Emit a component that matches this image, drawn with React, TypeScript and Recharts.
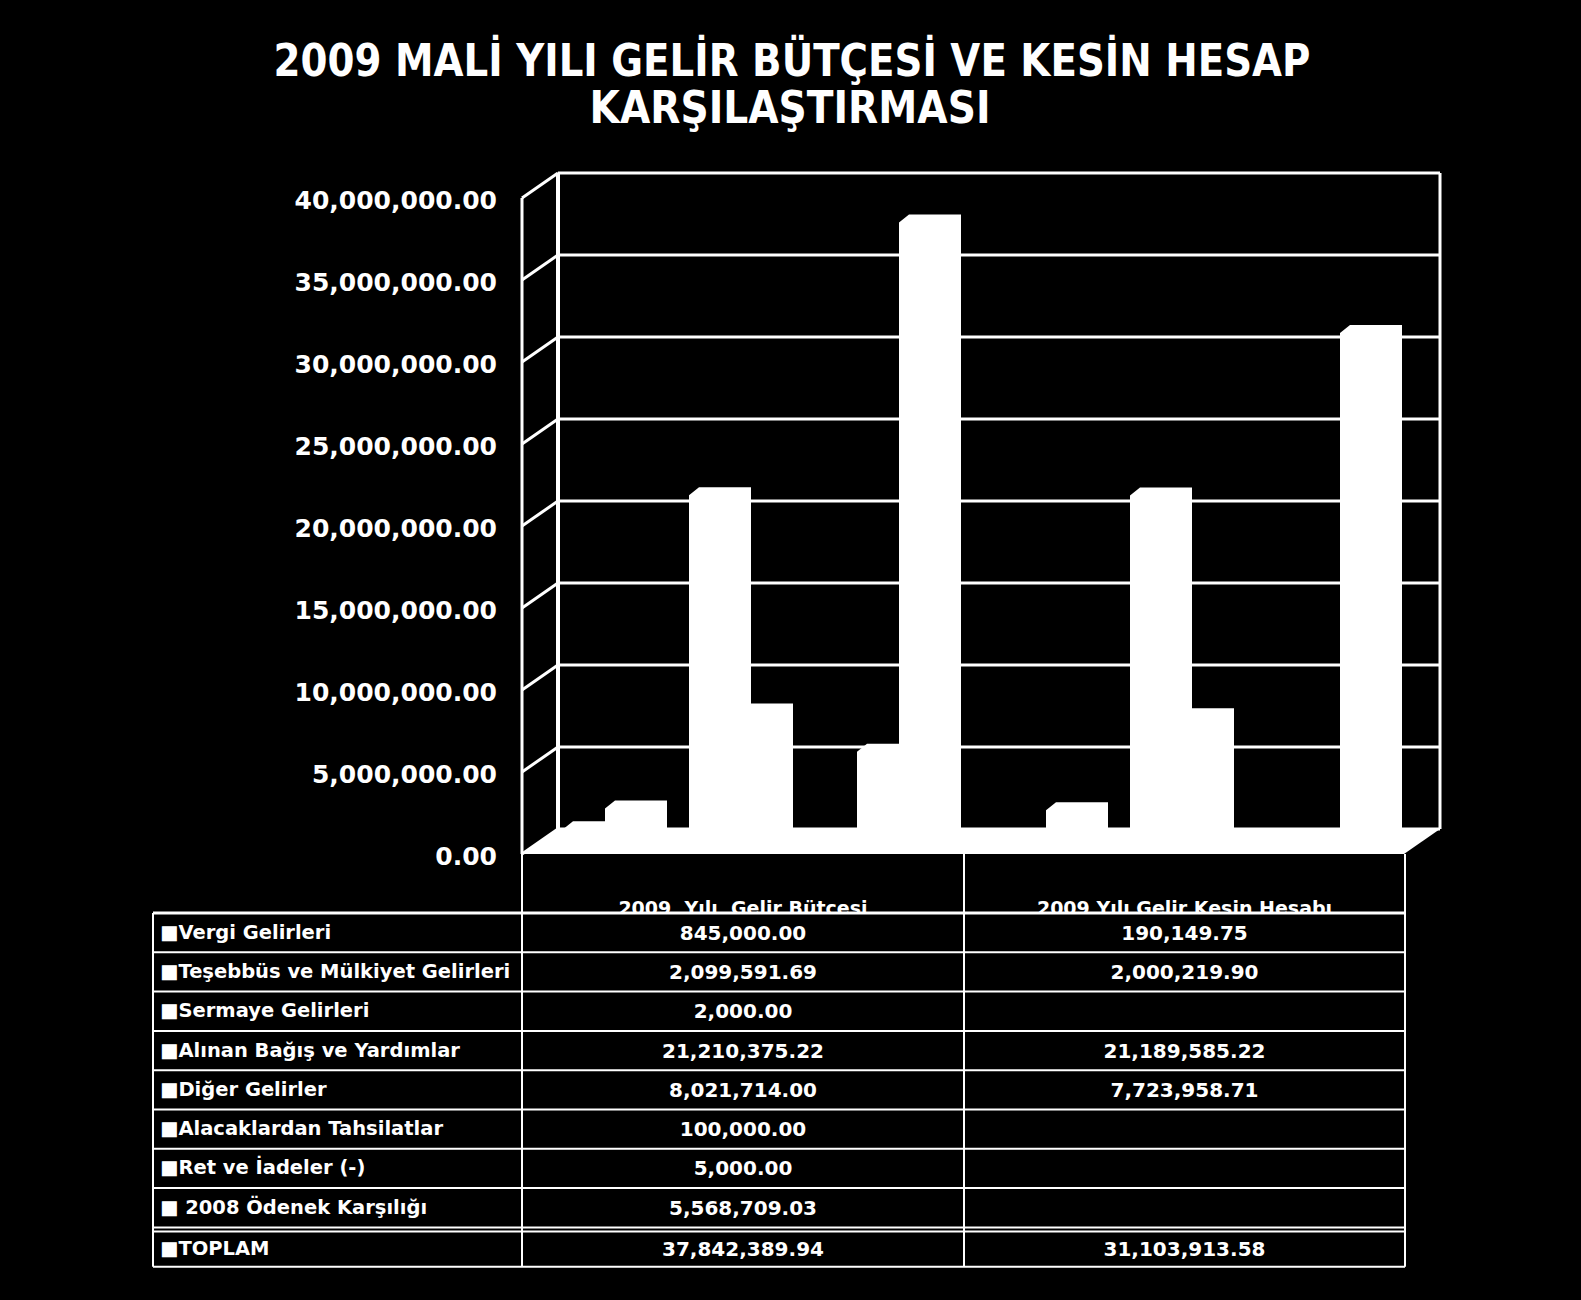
import React from "react";
import { BarChart, Bar, XAxis, YAxis, CartesianGrid } from "recharts";

const categories = ["2009  Yılı  Gelir Bütçesi", "2009 Yılı Gelir Kesin Hesabı"];
const seriesNames = [
  "Vergi Gelirleri",
  "Teşebbüs ve Mülkiyet Gelirleri",
  "Sermaye Gelirleri",
  "Alınan Bağış ve Yardımlar",
  "Diğer Gelirler",
  "Alacaklardan Tahsilatlar",
  "Ret ve İadeler (-)",
  " 2008 Ödenek Karşılığı",
  "TOPLAM",
];
const budgetValues = [845000, 2099591.69, 2000, 21210375.22, 8021714, 100000, 5000, 5568709.03, 37842389.94];
const finalValues = [190149.75, 2000219.9, null, 21189585.22, 7723958.71, null, null, null, 31103913.58];
const yTicks = [0, 5000000, 10000000, 15000000, 20000000, 25000000, 30000000, 35000000, 40000000];

const columns = [budgetValues, finalValues];
const data = categories.map((name, c) => {
  const row: Record<string, any> = { name };
  seriesNames.forEach((_, i) => (row["s" + i] = columns[c][i]));
  return row;
});

// layout
const W = 1581;
const H = 1300;
const CHART_H = 900;
const PLOT_L = 558;
const PLOT_R = 1440;
const PLOT_T = 173;
const PLOT_B = 829;
const DEPTH_X = 36;
const DEPTH_Y = 25;
const LABEL_R = 497;
const YAXIS_W = 100;
const BAR_SHIFT_X = 17;
const BAR_SHIFT_Y = 6;

const TABLE_L = 153;
const COL1 = 522;
const COL2 = 964;
const TABLE_R = 1405;
const TABLE_T = 913;
const ROW_H = 39.3;

const FONT = "'DejaVu Sans', Verdana, sans-serif";

const fmt = (v: number) =>
  v.toLocaleString("en-US", { minimumFractionDigits: 2, maximumFractionDigits: 2 });

function WallTick(props: any) {
  const { y, payload } = props;
  return (
    <g>
      <line x1={PLOT_L - DEPTH_X} y1={y + DEPTH_Y} x2={PLOT_L} y2={y} stroke="#fff" strokeWidth={3} />
      <text
        x={LABEL_R}
        y={y + DEPTH_Y + 2}
        dy={9}
        textAnchor="end"
        fill="#fff"
        fontFamily={FONT}
        fontWeight="bold"
        fontSize={25}
      >
        {fmt(payload.value)}
      </text>
    </g>
  );
}

function Bar3D(props: any) {
  const { x, y, width, height } = props;
  if (x == null || y == null || !(height > 0)) return null;
  const bx = x - BAR_SHIFT_X;
  const top = y + BAR_SHIFT_Y;
  const bottom = y + height + BAR_SHIFT_Y;
  const ch = Math.min(8, height);
  const d = `M${bx},${top + ch} L${bx + 10},${top} L${bx + width},${top} L${bx + width},${bottom} L${bx},${bottom} Z`;
  return <path d={d} fill="#fff" />;
}

export default function App() {
  const frontL = PLOT_L - DEPTH_X;
  const frontR = PLOT_R - DEPTH_X;
  const frontB = PLOT_B + DEPTH_Y;
  const rowsBottom = TABLE_T + ROW_H * seriesNames.length;

  return (
    <div
      style={{
        position: "fixed",
        left: 0,
        top: 0,
        width: W,
        height: H,
        background: "#000",
        overflow: "hidden",
      }}
    >
      {/* title */}
      <svg width={W} height={150} style={{ position: "absolute", left: 0, top: 0 }}>
        <text
          x={792}
          y={76}
          textAnchor="middle"
          fill="#fff"
          fontFamily={FONT}
          fontWeight="bold"
          fontSize={44}
          textLength={1037}
          lengthAdjust="spacingAndGlyphs"
        >
          2009 MALİ YILI GELİR BÜTÇESİ VE KESİN HESAP
        </text>
        <text
          x={790}
          y={123}
          textAnchor="middle"
          fill="#fff"
          fontFamily={FONT}
          fontWeight="bold"
          fontSize={44}
          textLength={401}
          lengthAdjust="spacingAndGlyphs"
        >
          KARŞILAŞTIRMASI
        </text>
      </svg>

      {/* walls and floor */}
      <svg width={W} height={CHART_H} style={{ position: "absolute", left: 0, top: 0 }}>
        <polygon
          points={`${frontL},${frontB} ${frontR},${frontB} ${PLOT_R},${PLOT_B} ${PLOT_L},${PLOT_B}`}
          fill="#fff"
        />
        <line x1={frontL} y1={PLOT_T + DEPTH_Y} x2={frontL} y2={frontB} stroke="#fff" strokeWidth={3} />
        <line x1={PLOT_L} y1={PLOT_T} x2={PLOT_L} y2={PLOT_B} stroke="#fff" strokeWidth={4} />
        <line x1={PLOT_R} y1={PLOT_T} x2={PLOT_R} y2={PLOT_B} stroke="#fff" strokeWidth={3} />
      </svg>

      <div style={{ position: "absolute", left: 0, top: 0 }}>
        <BarChart
          width={W}
          height={CHART_H}
          data={data}
          barSize={62}
          barGap={-20}
          margin={{ top: PLOT_T, right: W - PLOT_R, bottom: CHART_H - PLOT_B, left: PLOT_L - YAXIS_W }}
        >
          <CartesianGrid vertical={false} stroke="#fff" strokeWidth={3} />
          <XAxis dataKey="name" hide />
          <YAxis
            width={YAXIS_W}
            domain={[0, 40000000]}
            ticks={yTicks}
            interval={0}
            axisLine={false}
            tickLine={false}
            tick={<WallTick />}
          />
          {seriesNames.map((s, i) => (
            <Bar key={s} dataKey={"s" + i} name={s} fill="#fff" shape={<Bar3D />} isAnimationActive={false} />
          ))}
        </BarChart>
      </div>

      {/* data table */}
      <svg width={W} height={H} style={{ position: "absolute", left: 0, top: 0 }}>
        <defs>
          <clipPath id="hdr">
            <rect x={COL1} y={frontB} width={TABLE_R - COL1} height={TABLE_T - frontB - 1} />
          </clipPath>
        </defs>
        <g clipPath="url(#hdr)">
          {categories.map((c, i) => (
            <text
              key={c}
              x={i === 0 ? (COL1 + COL2) / 2 : (COL2 + TABLE_R) / 2}
              y={TABLE_T + 2}
              textAnchor="middle"
              fill="#fff"
              fontFamily={FONT}
              fontWeight="bold"
              fontSize={19}
              style={{ whiteSpace: "pre" }}
            >
              {c}
            </text>
          ))}
        </g>
        <line x1={TABLE_L} y1={TABLE_T} x2={TABLE_R} y2={TABLE_T} stroke="#fff" strokeWidth={3} />
        {seriesNames.map((_, i) =>
          i === 0 ? null : (
            <line
              key={"r" + i}
              x1={TABLE_L}
              y1={TABLE_T + ROW_H * i}
              x2={TABLE_R}
              y2={TABLE_T + ROW_H * i}
              stroke="#fff"
              strokeWidth={2}
            />
          )
        )}
        <line
          x1={TABLE_L}
          y1={TABLE_T + ROW_H * 8 + 4}
          x2={TABLE_R}
          y2={TABLE_T + ROW_H * 8 + 4}
          stroke="#fff"
          strokeWidth={2}
        />
        <line x1={TABLE_L} y1={rowsBottom} x2={TABLE_R} y2={rowsBottom} stroke="#fff" strokeWidth={2} />
        <line x1={TABLE_L} y1={TABLE_T} x2={TABLE_L} y2={rowsBottom} stroke="#fff" strokeWidth={2} />
        {[COL1, COL2, TABLE_R].map((x) => (
          <line key={x} x1={x} y1={frontB} x2={x} y2={rowsBottom} stroke="#fff" strokeWidth={2} />
        ))}
        {seriesNames.map((s, i) => {
          const cy = TABLE_T + ROW_H * i + ROW_H / 2 + (i === 8 ? 2 : 0);
          return (
            <g key={s} fill="#fff" fontFamily={FONT} fontWeight="bold" fontSize={20}>
              <text x={TABLE_L + 7} y={cy} dy={6} fontSize={19.5} style={{ whiteSpace: "pre" }}>
                {"■" + s}
              </text>
              {budgetValues[i] != null && (
                <text x={(COL1 + COL2) / 2} y={cy} dy={7} textAnchor="middle">
                  {fmt(budgetValues[i] as number)}
                </text>
              )}
              {finalValues[i] != null && (
                <text x={(COL2 + TABLE_R) / 2} y={cy} dy={7} textAnchor="middle">
                  {fmt(finalValues[i] as number)}
                </text>
              )}
            </g>
          );
        })}
      </svg>
    </div>
  );
}
